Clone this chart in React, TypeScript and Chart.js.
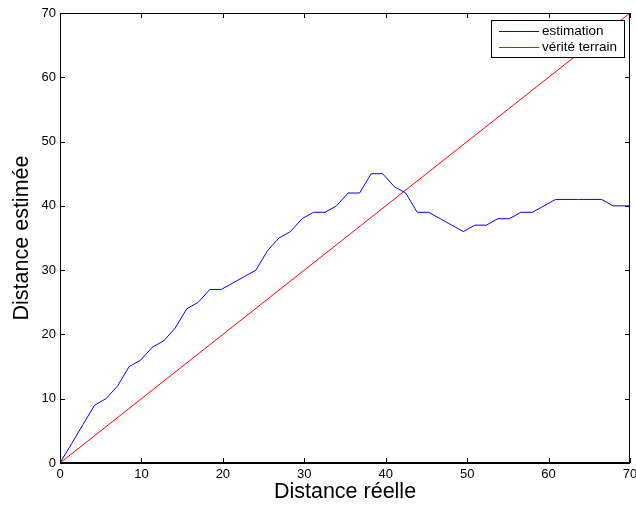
import { useEffect, useRef } from "react";
import { Chart, registerables } from "chart.js";

Chart.register(...registerables);

// Real distance sampled along the trajectory
const realDistance = [
  0, 1.42, 2.83, 4.25, 5.66, 7.08, 8.49, 9.91, 11.32, 12.74,
  14.15, 15.57, 16.98, 18.4, 19.81, 21.23, 22.64, 24.06, 25.47, 26.89,
  28.3, 29.72, 31.13, 32.55, 33.96, 35.38, 36.79, 38.21, 39.62, 41.04,
  42.45, 43.87, 45.28, 46.7, 48.11, 49.53, 50.94, 52.36, 53.77, 55.19,
  56.6, 58.02, 59.43, 60.85, 62.26, 63.68, 65.09, 66.51, 67.92, 69.34,
  70.75,
];

// Distance given by the estimator at each sample
const estimatedDistance = [
  0, 3, 6, 9, 10, 12, 15, 16, 18, 19,
  21, 24, 25, 27, 27, 28, 29, 30, 33, 35,
  36, 38, 39, 39, 40, 42, 42, 45, 45, 43,
  42, 39, 39, 38, 37, 36, 37, 37, 38, 38,
  39, 39, 40, 41, 41, 41, 41, 41, 40, 40,
  40,
];

// Ground truth: estimate equals real distance
const truthX = [0, 70];
const truthY = [0, 70];

const axisTicks = [0, 10, 20, 30, 40, 50, 60, 70];
const seriesNames = ["estimation", "vérité terrain"];
const seriesColors = ["#0000ff", "#ff0000"];
const xTitle = "Distance réelle";
const yTitle = "Distance estimée";

const FONT = "'Liberation Sans', Arial, Helvetica, sans-serif";

// Box around the axes with inward tick marks on all four sides
const framePlugin = {
  id: "frame",
  afterDatasetsDraw(chart: any) {
    const { ctx, chartArea: a, scales } = chart;
    const xs = scales.x;
    const ys = scales.y;
    const tick = 5;
    ctx.save();
    ctx.strokeStyle = "#000";
    ctx.lineWidth = 1;
    ctx.beginPath();
    ctx.moveTo(a.left + 0.5, a.top);
    ctx.lineTo(a.left + 0.5, a.bottom);
    ctx.moveTo(a.left, a.top + 0.5);
    ctx.lineTo(a.right, a.top + 0.5);
    ctx.moveTo(a.right - 0.5, a.top);
    ctx.lineTo(a.right - 0.5, a.bottom);
    for (const v of axisTicks) {
      const px = Math.round(xs.getPixelForValue(v)) + 0.5;
      ctx.moveTo(px, a.bottom);
      ctx.lineTo(px, a.bottom - tick);
      ctx.moveTo(px, a.top);
      ctx.lineTo(px, a.top + tick);
      const py = Math.round(ys.getPixelForValue(v)) + 0.5;
      ctx.moveTo(a.left, py);
      ctx.lineTo(a.left + tick, py);
      ctx.moveTo(a.right, py);
      ctx.lineTo(a.right - tick, py);
    }
    ctx.stroke();
    ctx.fillStyle = "#000";
    ctx.fillRect(a.left, a.bottom - 1, a.right - a.left, 2);
    ctx.restore();
  },
};

// Boxed legend in the upper right corner of the axes
const boxLegendPlugin = {
  id: "boxLegend",
  afterDraw(chart: any) {
    const { ctx, chartArea: a } = chart;
    const boxW = 133;
    const boxH = 37;
    const x0 = a.right - 6 - boxW;
    const y0 = a.top + 7;
    ctx.save();
    ctx.fillStyle = "#fff";
    ctx.fillRect(x0, y0, boxW, boxH);
    ctx.strokeStyle = "#000";
    ctx.lineWidth = 1;
    ctx.strokeRect(x0 + 0.5, y0 + 0.5, boxW, boxH);
    ctx.font = `13.5px ${FONT}`;
    ctx.textBaseline = "middle";
    ctx.textAlign = "left";
    seriesNames.forEach((name, i) => {
      const y = y0 + 11 + i * 15.5;
      ctx.fillStyle = seriesColors[i];
      ctx.fillRect(x0 + 8, Math.round(y), 40, 1);
      ctx.fillStyle = "#000";
      ctx.fillText(name, x0 + 51, y + 0.5);
    });
    ctx.restore();
  },
};

export default function App() {
  const canvasRef = useRef<HTMLCanvasElement | null>(null);

  useEffect(() => {
    const canvas = canvasRef.current;
    if (!canvas) return;

    const estimate = realDistance.map((x, i) => ({ x, y: estimatedDistance[i] }));
    const truth = truthX.map((x, i) => ({ x, y: truthY[i] }));

    const tickFont = { family: FONT, size: 13 };
    const titleFont = { family: FONT, size: 21.5, lineHeight: 1 };

    const chart = new Chart(canvas, {
      type: "scatter",
      data: {
        datasets: [
          {
            label: seriesNames[0],
            data: estimate,
            showLine: true,
            borderColor: seriesColors[0],
            backgroundColor: seriesColors[0],
            borderWidth: 1,
            pointRadius: 0,
            clip: 0,
          },
          {
            label: seriesNames[1],
            data: truth,
            showLine: true,
            borderColor: seriesColors[1],
            backgroundColor: seriesColors[1],
            borderWidth: 1,
            pointRadius: 0,
            clip: 0,
          },
        ],
      },
      options: {
        responsive: false,
        animation: false,
        devicePixelRatio: 1,
        layout: { padding: { top: 13, right: 6, left: 0, bottom: 0 } },
        plugins: {
          legend: { display: false },
          tooltip: { enabled: false },
        },
        scales: {
          x: {
            type: "linear",
            min: 0,
            max: 70,
            grid: { display: false, drawTicks: false },
            border: { display: false },
            afterBuildTicks: (scale: any) => {
              scale.ticks = axisTicks.map((v) => ({ value: v }));
            },
            afterFit: (scale: any) => {
              scale.height = 43;
              scale.paddingLeft = 0;
              scale.paddingRight = 0;
            },
            ticks: { font: tickFont, color: "#000", padding: 4, maxRotation: 0 },
            title: {
              display: true,
              text: xTitle,
              font: titleFont,
              color: "#000",
              padding: { top: 0, bottom: 2.75 },
            },
          },
          y: {
            type: "linear",
            min: 0,
            max: 70,
            grid: { display: false, drawTicks: false },
            border: { display: false },
            afterBuildTicks: (scale: any) => {
              scale.ticks = axisTicks.map((v) => ({ value: v }));
            },
            afterFit: (scale: any) => {
              scale.width = 60;
              scale.paddingTop = 0;
              scale.paddingBottom = 0;
            },
            ticks: { font: tickFont, color: "#000", padding: 4 },
            title: {
              display: true,
              text: yTitle,
              font: titleFont,
              color: "#000",
              padding: { top: 11.75, bottom: 0 },
            },
          },
        },
      },
      plugins: [framePlugin, boxLegendPlugin],
    });

    return () => chart.destroy();
  }, []);

  return (
    <div style={{ position: "fixed", left: 0, top: 0, width: 636, height: 506, background: "#fff" }}>
      <canvas ref={canvasRef} width={636} height={506} style={{ display: "block" }} />
    </div>
  );
}
